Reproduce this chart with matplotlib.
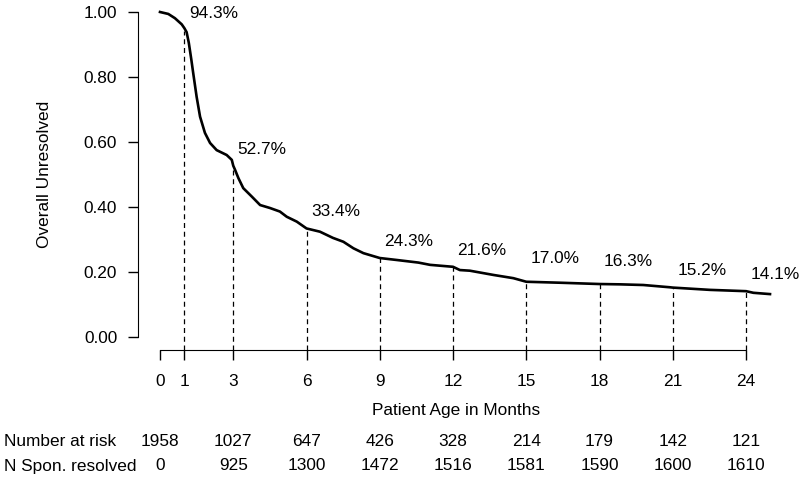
import matplotlib
matplotlib.use('Agg')
import matplotlib.pyplot as plt
import matplotlib.transforms as mtransforms

plt.rcParams['font.family'] = ['Liberation Sans', 'DejaVu Sans']
plt.rcParams['font.size'] = 12.4

# curve (months, share unresolved)
curve_months = [0, 0.34, 0.61, 0.89, 1.0, 1.09, 1.18, 1.28, 1.36, 1.5, 1.64, 1.84, 2.05, 2.32, 2.73,
                2.94, 3.0, 3.07, 3.21, 3.41, 3.76, 4.10, 4.50, 4.91, 5.19, 5.60, 6.0, 6.55, 7.08,
                7.51, 7.92, 8.33, 9.0, 9.69, 10.58, 11.06, 12.0, 12.28, 12.69, 13.65, 14.47, 15.0,
                16.38, 18.0, 18.84, 19.79, 20.88, 21.0, 22.52, 24.0, 24.3, 24.98]
curve_values = [1.0, 0.994, 0.981, 0.962, 0.950, 0.938, 0.905, 0.855, 0.812, 0.739, 0.678, 0.628,
                0.597, 0.575, 0.560, 0.545, 0.527, 0.515, 0.489, 0.458, 0.432, 0.406, 0.397, 0.386,
                0.370, 0.355, 0.334, 0.324, 0.305, 0.293, 0.273, 0.258, 0.243, 0.237, 0.229, 0.222,
                0.216, 0.206, 0.204, 0.191, 0.181, 0.170, 0.167, 0.163, 0.162, 0.160, 0.153, 0.152,
                0.145, 0.141, 0.136, 0.132]

# marked time points and their values
mark_months = [1, 3, 6, 9, 12, 15, 18, 21, 24]
mark_values = [0.943, 0.527, 0.334, 0.243, 0.216, 0.170, 0.163, 0.152, 0.141]

# risk table
table_months = [0, 3, 6, 9, 12, 15, 18, 21, 24]
at_risk = [1958, 1027, 647, 426, 328, 214, 179, 142, 121]
spon_resolved = [0, 925, 1300, 1472, 1516, 1581, 1590, 1600, 1610]

x_ticks = [0, 1, 3, 6, 9, 12, 15, 18, 21, 24]
y_ticks = [0.0, 0.2, 0.4, 0.6, 0.8, 1.0]

W, H = 800, 479
fig = plt.figure(figsize=(W / 100, H / 100), dpi=100)
px_per_month = 24.42
ax = fig.add_axes([(160 - px_per_month) / W, (H - 350) / H, 26.5 * px_per_month / W, 347.75 / H])
ax.set_xlim(-1, 25.5)
ax.set_ylim(-0.04, 1.03)

# R-style detached axes
for s in ['top', 'right']:
    ax.spines[s].set_visible(False)
ax.spines['left'].set_position(('data', -0.9))
ax.spines['left'].set_bounds(0, 1)
ax.spines['bottom'].set_bounds(0, 24)
ax.set_xticks(x_ticks)
ax.set_xticklabels([str(t) for t in x_ticks])
ax.set_yticks(y_ticks)
ax.set_yticklabels([f"{t:.2f}" for t in y_ticks])
ax.tick_params(direction='out', length=7.5, width=1)
ax.tick_params(axis='x', pad=10)
ax.tick_params(axis='y', pad=7.5)
ax.patch.set_visible(False)

# dashed drop lines
ax.vlines(mark_months, -0.04, mark_values, colors='black', linewidth=0.9,
          linestyles=(0, (4, 3)))

ax.plot(curve_months, curve_values, color='black', linewidth=1.9, solid_joinstyle='round')

# percentage labels above each mark
label_raise = [12, 12, 12, 12, 12, 16.5, 16.5, 12, 12]
for m, v, r in zip(mark_months, mark_values, label_raise):
    ax.annotate(f"{v * 100:.1f}%", (m, v), xytext=(3.2, r), textcoords='offset points',
                ha='left', va='center')

fig.text(45 / W, (H - 174.5) / H, 'Overall Unresolved', rotation=90, ha='center', va='center')
fig.text(456 / W, (H - 410) / H, 'Patient Age in Months', ha='center', va='center')

# number at risk table
trans = mtransforms.blended_transform_factory(ax.transData, fig.transFigure)
fig.text(4 / W, (H - 441) / H, 'Number at risk', ha='left', va='center')
fig.text(4 / W, (H - 466) / H, 'N Spon. resolved', ha='left', va='center')
for m, a, s in zip(table_months, at_risk, spon_resolved):
    ax.text(m, (H - 441) / H, str(a), transform=trans, ha='center', va='center', clip_on=False)
    ax.text(m, (H - 466) / H, str(s), transform=trans, ha='center', va='center', clip_on=False)

fig.savefig('out.png', dpi=100)
